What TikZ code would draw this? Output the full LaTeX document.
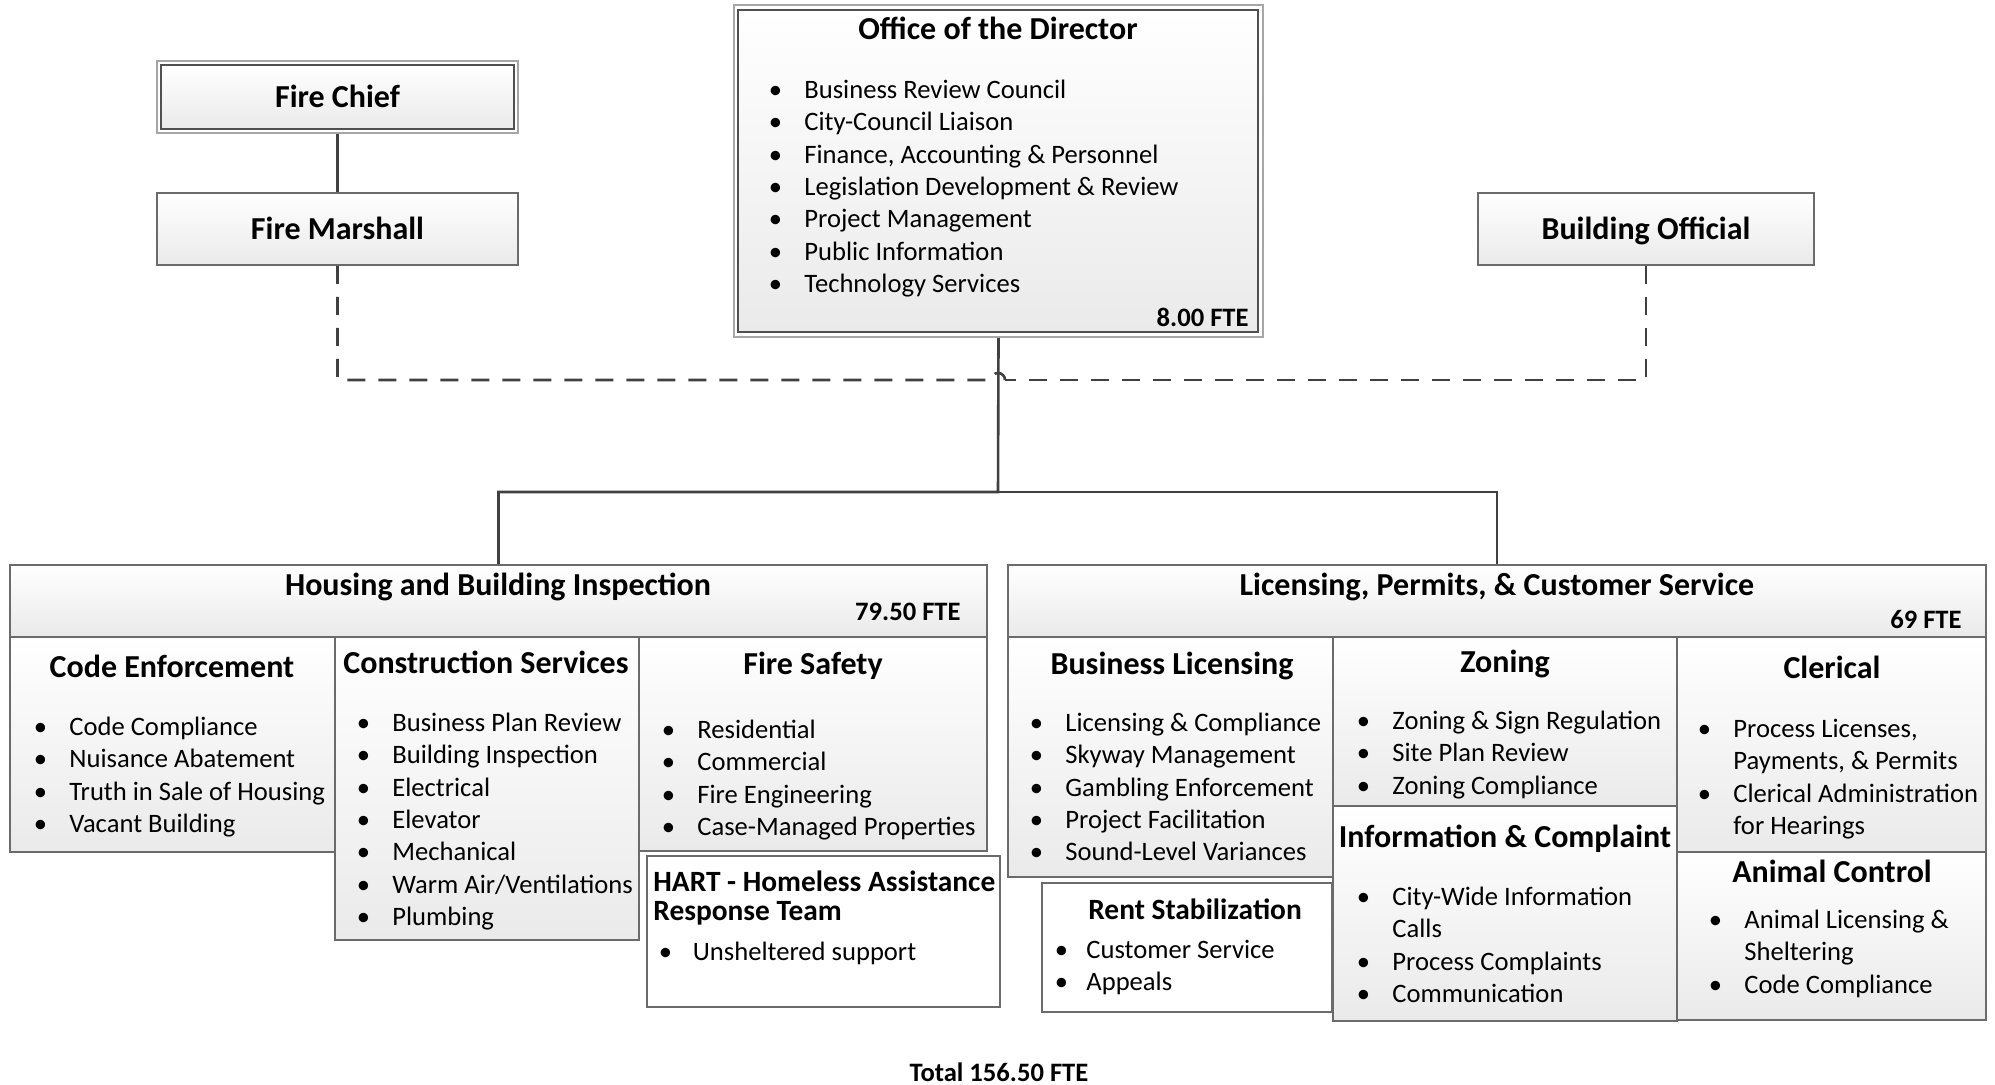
\documentclass[tikz,border=0pt]{standalone}
\usepackage{fontspec}
\setmainfont{Carlito}
\usetikzlibrary{fit}
\definecolor{boxline}{HTML}{6B6B6B}
\definecolor{innerline}{HTML}{505050}
\definecolor{outerline}{HTML}{A6A6A6}
\definecolor{linkgray}{HTML}{404040}
\definecolor{boxshade}{HTML}{EAEAEA}
\newcommand{\bodyfont}{\fontsize{13.3}{16.2}\selectfont}
\newcommand{\itm}[2][17.75pt]{\strut\makebox[#1][l]{\textbullet}#2}
\newcommand{\cnt}[2][17.75pt]{\strut\hspace*{#1}#2}

\begin{document}
\begin{tikzpicture}[
  x=0.5pt, y=-0.5pt,
  box/.style={draw=boxline, line width=0.9pt, inner sep=0pt,
    top color=white, bottom color=boxshade},
  plainbox/.style={draw=boxline, line width=0.9pt, inner sep=0pt, fill=white},
  outerbox/.style={draw=outerline, line width=1.1pt, inner sep=0pt, fill=white},
  innerbox/.style={box, draw=innerline, line width=0.6pt},
  title/.style={font=\fontsize{16}{19}\selectfont\bfseries, inner sep=0pt,
    text height=14pt, text depth=3pt},
  subtitle/.style={font=\fontsize{14.7}{14.5}\selectfont\bfseries, inner sep=0pt, align=left},
  fte/.style={font=\fontsize{13.3}{16}\selectfont\bfseries, inner sep=0pt, anchor=east},
  items/.style={font=\bodyfont, inner sep=0pt, anchor=north west, align=left},
  link/.style={draw=linkgray, line width=1.3pt},
  dashlink/.style={link, dash pattern=on 9pt off 6.5pt}
]
\path[use as bounding box] (0,0) rectangle (1995,1085);

% ---- Top row ----
\node[outerbox, fit={(157,61)(518,133)}] (fc) {};
\node[innerbox, fit={(161,65)(514,129)}] (fcin) {};
\node[title] (fctext) at (fc) {Fire Chief};

\node[box, fit={(157,193)(518,265)}] (fm) {};
\node[title] (fmtext) at (fm) {Fire Marshall};

\node[box, fit={(1478,193)(1814,265)}] (bo) {};
\node[title] (botext) at (bo) {Building Official};

\node[outerbox, fit={(734,5)(1263,337)}] (dir) {};
\node[innerbox, fit={(738,10)(1258,332)}] (dirin) {};
\node[title] (dirtitle) at (998,29) {Office of the Director};
\node[items] (dirlist) at (768.5,75.3) {
  \itm{Business Review Council}\\
  \itm{City-Council Liaison}\\
  \itm{Finance, Accounting \& Personnel}\\
  \itm{Legislation Development \& Review}\\
  \itm{Project Management}\\
  \itm{Public Information}\\
  \itm{Technology Services}
};
\node[fte] (dirfte) at (1249,317) {8.00 FTE};

% Connectors
\coordinate (hop) at (998,380);
\coordinate (bus) at (998,492);

\node[box, fit={(10,565)(987,637)}] (hb) {};
\node[box, fit={(1008,565)(1986,637)}] (lp) {};

\draw[link] (fc.south) -- (fm.north);
\draw[link] (dir.south) -- (bus) -| (hb.north);
\draw[link] (bus) -| (lp.north);
\draw[dashlink] (fm.south) |- ([xshift=-3.5pt]hop)
  arc[start angle=180, end angle=0, radius=3.5pt];
\draw[dashlink] (bo.south) |- ([xshift=3.5pt]hop);

% ---- Housing and Building Inspection ----
\node[title] (hbtext) at (498,584) {Housing and Building Inspection};
\node[fte] (hbfte) at (961,612) {79.50 FTE};

\node[box, fit={(10,637)(335,852)}] (ce) {};
\node[title] (cetext) at (172,666) {Code Enforcement};
\node[items] (celist) at (33.5,712.3) {
  \itm{Code Compliance}\\
  \itm{Nuisance Abatement}\\
  \itm{Truth in Sale of Housing}\\
  \itm{Vacant Building}
};

\node[box, fit={(335,637)(639,940)}] (cs) {};
\node[title] (cstext) at (486,662) {Construction Services};
\node[items] (cslist) at (356.5,708.3) {
  \itm{Business Plan Review}\\
  \itm{Building Inspection}\\
  \itm{Electrical}\\
  \itm{Elevator}\\
  \itm{Mechanical}\\
  \itm{Warm Air/Ventilations}\\
  \itm{Plumbing}
};

\node[box, fit={(639,637)(987,851)}] (fs) {};
\node[title] (fstext) at (813,663) {Fire Safety};
\node[items] (fslist) at (661.5,715.3) {
  \itm{Residential}\\
  \itm{Commercial}\\
  \itm{Fire Engineering}\\
  \itm{Case-Managed Properties}
};

\node[plainbox, fit={(647,856)(1000,1007)}] (hart) {};
\node[subtitle, anchor=north west] (harttext) at (653,870)
  {HART - Homeless Assistance\\Response Team};
\node[items] (hartlist) at (658.5,937.3) {\itm[17pt]{Unsheltered support}};

% ---- Licensing, Permits, & Customer Service ----
\node[title] (lptext) at (1497,584) {Licensing, Permits, \& Customer Service};
\node[fte] (lpfte) at (1962,620) {69 FTE};

\node[box, fit={(1008,637)(1333,877)}] (bl) {};
\node[title] (bltext) at (1172,663) {Business Licensing};
\node[items] (bllist) at (1029.5,708.3) {
  \itm{Licensing \& Compliance}\\
  \itm{Skyway Management}\\
  \itm{Gambling Enforcement}\\
  \itm{Project Facilitation}\\
  \itm{Sound-Level Variances}
};

\node[plainbox, fit={(1042,883)(1332,1012)}] (rs) {};
\node[subtitle] (rstext) at (1195,909) {Rent Stabilization};
\node[items] (rslist) at (1054.5,935.3) {
  \itm[15.75pt]{Customer Service}\\
  \itm[15.75pt]{Appeals}
};

\node[box, fit={(1333,637)(1677,806)}] (zn) {};
\node[title] (zntext) at (1505,661) {Zoning};
\node[items] (znlist) at (1356.5,706.3) {
  \itm{Zoning \& Sign Regulation}\\
  \itm{Site Plan Review}\\
  \itm{Zoning Compliance}
};

\node[box, fit={(1333,806)(1677,1021)}] (ic) {};
\node[title] (ictext) at (1505,836) {Information \& Complaint};
\node[items] (iclist) at (1356.5,882.3) {
  \itm{City-Wide Information}\\
  \cnt{Calls}\\
  \itm{Process Complaints}\\
  \itm{Communication}
};

\node[box, fit={(1677,637)(1986,852)}] (cl) {};
\node[title] (cltext) at (1832,667) {Clerical};
\node[items] (cllist) at (1697.5,714.3) {
  \itm{Process Licenses,}\\
  \cnt{Payments, \& Permits}\\
  \itm{Clerical Administration}\\
  \cnt{for Hearings}
};

\node[box, fit={(1677,852)(1986,1020)}] (ac) {};
\node[title] (actext) at (1832,871) {Animal Control};
\node[items] (aclist) at (1708.5,905.3) {
  \itm{Animal Licensing \&}\\
  \cnt{Sheltering}\\
  \itm{Code Compliance}
};

% ---- Total ----
\node[fte, anchor=center] (total) at (999,1072) {Total 156.50 FTE};

\end{tikzpicture}
\end{document}
